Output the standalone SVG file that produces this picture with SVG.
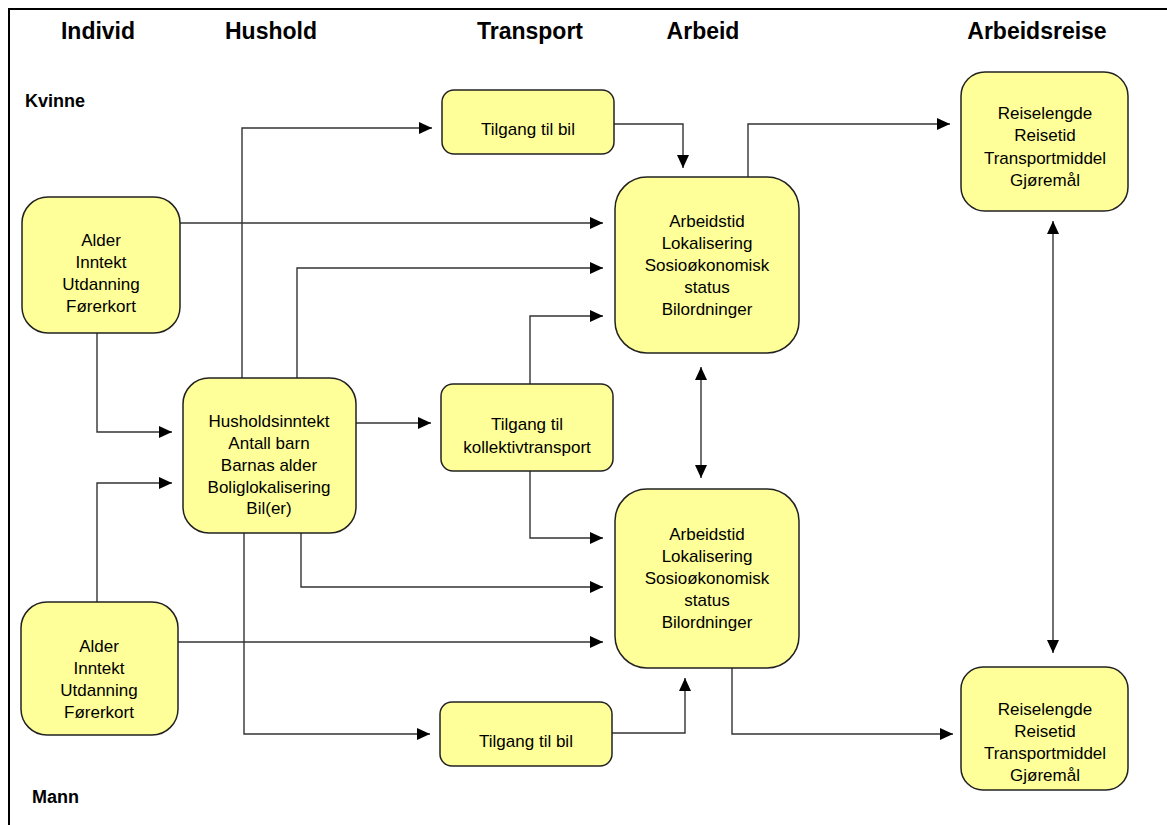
<svg xmlns="http://www.w3.org/2000/svg" width="1167" height="825" viewBox="0 0 1167 825">
<defs>
<style>
.box{fill:#FFFF99;stroke:#222;stroke-width:1.5}
.t{font-family:"Liberation Sans",Arial,sans-serif;font-size:17px;fill:#000;text-anchor:middle}
.h{font-family:"Liberation Sans",Arial,sans-serif;font-size:23px;font-weight:bold;fill:#000;text-anchor:middle}
.s{font-family:"Liberation Sans",Arial,sans-serif;font-size:18px;font-weight:bold;fill:#000}
.c{fill:none;stroke:#333;stroke-width:1.4}
</style>
<marker id="ah" viewBox="0 0 13 12" refX="13" refY="6" markerWidth="13" markerHeight="12" markerUnits="userSpaceOnUse" orient="auto-start-reverse">
<path d="M0,0 L13,6 L0,12 z" fill="#000"/>
</marker>
</defs>
<rect x="9" y="9" width="1170" height="830" fill="#fff" stroke="#000" stroke-width="2"/>
<g id="headers">
<text class="h" x="98" y="39">Individ</text>
<text class="h" x="271" y="39">Hushold</text>
<text class="h" x="530" y="39">Transport</text>
<text class="h" x="703" y="39">Arbeid</text>
<text class="h" x="1037" y="39">Arbeidsreise</text>
<text class="s" x="25" y="107">Kvinne</text>
<text class="s" x="32" y="803">Mann</text>
</g>
<g id="connectors">
<path class="c" d="M242,378 V128 H432" marker-end="url(#ah)"/>
<path class="c" d="M614,124 H683 V168" marker-end="url(#ah)"/>
<path class="c" d="M748,177 V124 H950" marker-end="url(#ah)"/>
<path class="c" d="M180,223 H603" marker-end="url(#ah)"/>
<path class="c" d="M297,378 V268 H603" marker-end="url(#ah)"/>
<path class="c" d="M530,384 V316 H603" marker-end="url(#ah)"/>
<path class="c" d="M97,333 V432 H172" marker-end="url(#ah)"/>
<path class="c" d="M97,602 V483 H172" marker-end="url(#ah)"/>
<path class="c" d="M356,423 H431" marker-end="url(#ah)"/>
<path class="c" d="M701,367 V478" marker-start="url(#ah)" marker-end="url(#ah)"/>
<path class="c" d="M530,471 V538 H603" marker-end="url(#ah)"/>
<path class="c" d="M301,533 V587 H603" marker-end="url(#ah)"/>
<path class="c" d="M178,642 H603" marker-end="url(#ah)"/>
<path class="c" d="M244,533 V734 H430" marker-end="url(#ah)"/>
<path class="c" d="M612,733 H685 V678" marker-end="url(#ah)"/>
<path class="c" d="M732,668 V734 H953" marker-end="url(#ah)"/>
<path class="c" d="M1053,221 V653" marker-start="url(#ah)" marker-end="url(#ah)"/>
</g>
<g id="individ-kvinne">
<rect class="box" x="22" y="197" width="158" height="136" rx="26"/>
<text class="t" x="101" y="246">Alder</text>
<text class="t" x="101" y="268">Inntekt</text>
<text class="t" x="101" y="290">Utdanning</text>
<text class="t" x="101" y="312">Førerkort</text>
</g>
<g id="individ-mann">
<rect class="box" x="21" y="602" width="157" height="133" rx="26"/>
<text class="t" x="99" y="652">Alder</text>
<text class="t" x="99" y="674">Inntekt</text>
<text class="t" x="99" y="696">Utdanning</text>
<text class="t" x="99" y="718">Førerkort</text>
</g>
<g id="hushold">
<rect class="box" x="183" y="378" width="173" height="155" rx="26"/>
<text class="t" x="269" y="427">Husholdsinntekt</text>
<text class="t" x="269" y="449">Antall barn</text>
<text class="t" x="269" y="471">Barnas alder</text>
<text class="t" x="269" y="493">Boliglokalisering</text>
<text class="t" x="269" y="514">Bil(er)</text>
</g>
<g id="bil-kvinne">
<rect class="box" x="442" y="90" width="172" height="64" rx="12"/>
<text class="t" x="528" y="135">Tilgang til bil</text>
</g>
<g id="kollektiv">
<rect class="box" x="441" y="384" width="172" height="87" rx="12"/>
<text class="t" x="527" y="430">Tilgang til</text>
<text class="t" x="527" y="453">kollektivtransport</text>
</g>
<g id="bil-mann">
<rect class="box" x="440" y="702" width="172" height="64" rx="12"/>
<text class="t" x="526" y="747">Tilgang til bil</text>
</g>
<g id="arbeid-kvinne">
<rect class="box" x="615" y="177" width="184" height="176" rx="32"/>
<text class="t" x="707" y="227">Arbeidstid</text>
<text class="t" x="707" y="249">Lokalisering</text>
<text class="t" x="707" y="271">Sosioøkonomisk</text>
<text class="t" x="707" y="293">status</text>
<text class="t" x="707" y="315">Bilordninger</text>
</g>
<g id="arbeid-mann">
<rect class="box" x="615" y="489" width="184" height="179" rx="32"/>
<text class="t" x="707" y="540">Arbeidstid</text>
<text class="t" x="707" y="562">Lokalisering</text>
<text class="t" x="707" y="584">Sosioøkonomisk</text>
<text class="t" x="707" y="606">status</text>
<text class="t" x="707" y="628">Bilordninger</text>
</g>
<g id="reise-kvinne">
<rect class="box" x="961" y="72" width="167" height="139" rx="24"/>
<text class="t" x="1045" y="119">Reiselengde</text>
<text class="t" x="1045" y="141">Reisetid</text>
<text class="t" x="1045" y="164">Transportmiddel</text>
<text class="t" x="1045" y="186">Gjøremål</text>
</g>
<g id="reise-mann">
<rect class="box" x="961" y="667" width="167" height="123" rx="22"/>
<text class="t" x="1045" y="715">Reiselengde</text>
<text class="t" x="1045" y="737">Reisetid</text>
<text class="t" x="1045" y="759">Transportmiddel</text>
<text class="t" x="1045" y="781">Gjøremål</text>
</g>
</svg>
